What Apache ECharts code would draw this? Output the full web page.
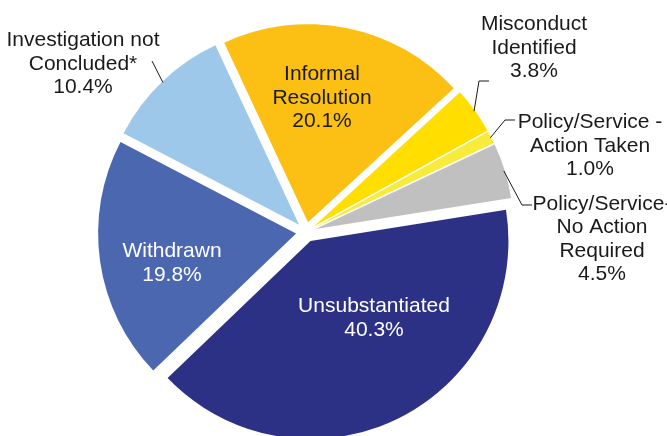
<!DOCTYPE html>
<html lang="en">
<head>
    <meta charset="UTF-8">
    <title>Complaint outcomes</title>
    <style>
        *{
            padding:0;
            margin:0;
        }
        html,body{background:#fff;}
    </style>
    <script src="https://cdn.jsdelivr.net/npm/echarts@6/dist/echarts.min.js"></script>
</head>
<body>
    <div id="main" style="width: 667px;height: 436px;"></div>
    <script>
        // slices, clockwise from the top
        var categories = ['Informal Resolution', 'Misconduct Identified', 'Policy/Service - Action Taken',
            'Policy/Service- No Action Required', 'Unsubstantiated', 'Withdrawn', 'Investigation not Concluded*'];
        var labelText = ['Informal\nResolution', 'Misconduct\nIdentified', 'Policy/Service -\nAction Taken',
            'Policy/Service-\nNo Action\nRequired', 'Unsubstantiated', 'Withdrawn', 'Investigation not\nConcluded*'];
        var values = [20.1, 3.8, 1.0, 4.5, 40.3, 19.8, 10.4];

        var colors = ['#FCBF14', '#FFDE00', '#F8EB3C', '#C0C0C0', '#2C3186', '#4A67B0', '#9EC8EA'];
        var textColors = ['#1a1a1a', '#1a1a1a', '#1a1a1a', '#1a1a1a', '#fff', '#fff', '#1a1a1a'];
        var inside = [true, false, false, false, true, true, false];
        // where each label block is centred
        var labelPos = [[322, 98], [534, 48], [590, 146], [602, 239], [374, 318], [172, 263], [83, 64]];
        // leader line: elbow and end, relative to the label centre
        var leader = [null, [[-55, 33], [-45, 33]], [[-85, -26], [-75, -26]], [[-80, -34], [-70, -34]],
            null, null, [[69, -3], [69, -3]]];

        var myChart = echarts.init(document.getElementById('main'));

        // exploded slices (selected state gives the offset)
        var sliceData = [];
        // same slices again, invisible, only to carry the labels
        var labelData = [];
        for (var i = 0; i < categories.length; i++) {
            sliceData.push({
                name: categories[i],
                value: values[i],
                selected: true,
                itemStyle: {color: colors[i]}
            });
            labelData.push({
                name: categories[i],
                value: values[i],
                label: {color: textColors[i]},
                labelLine: {show: !inside[i]}
            });
        }

        var option = {
            animation: false,
            backgroundColor: '#fff',
            series: [{
                type: 'pie',
                z: 2,
                center: [306, 232],
                radius: 198,
                startAngle: 115,
                clockwise: true,
                selectedMode: 'multiple',
                selectedOffset: 10,
                silent: true,
                label: {show: false},
                labelLine: {show: false},
                data: sliceData
            }, {
                type: 'pie',
                z: 5,
                center: [306, 232],
                radius: 207,
                startAngle: 115,
                clockwise: true,
                silent: true,
                avoidLabelOverlap: false,
                itemStyle: {color: 'rgba(0,0,0,0)'},
                data: labelData,
                label: {
                    show: true,
                    position: 'outside',
                    fontFamily: 'Liberation Sans, Arial, sans-serif',
                    fontSize: 21,
                    lineHeight: 23.5,
                    align: 'center',
                    formatter: function (p) {
                        return labelText[p.dataIndex] + '\n' + p.value.toFixed(1) + '%';
                    }
                },
                labelLine: {
                    show: true,
                    length: 12,
                    length2: 10,
                    lineStyle: {color: '#1a1a1a', width: 1}
                },
                labelLayout: function (p) {
                    var pos = labelPos[p.dataIndex];
                    var res = {x: pos[0], y: pos[1], align: 'center', verticalAlign: 'middle'};
                    var l = leader[p.dataIndex];
                    if (l && p.labelLinePoints) {
                        res.labelLinePoints = [
                            p.labelLinePoints[0],
                            [pos[0] + l[0][0], pos[1] + l[0][1]],
                            [pos[0] + l[1][0], pos[1] + l[1][1]]
                        ];
                    }
                    return res;
                }
            }]
        };
        myChart.setOption(option);
    </script>
</body>
</html>
